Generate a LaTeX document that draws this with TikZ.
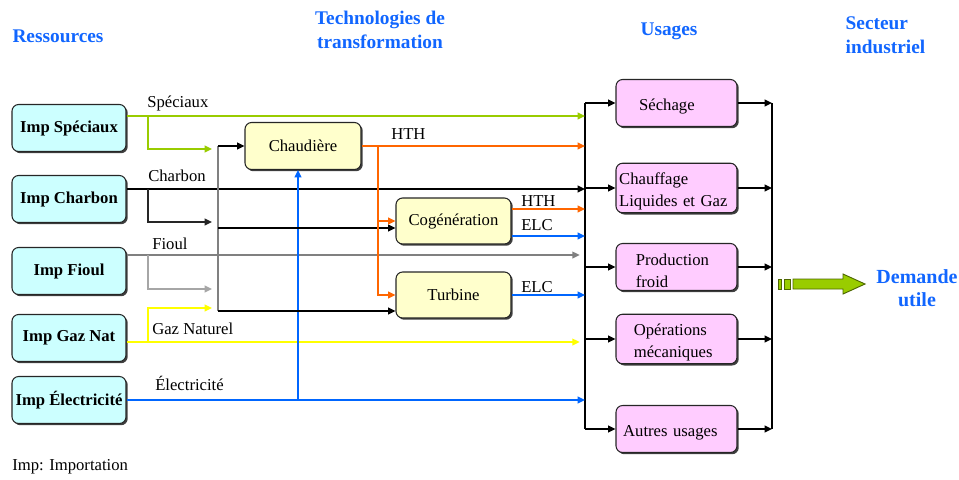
\documentclass[tikz,border=0pt]{standalone}
\usepackage{fontspec}
\setmainfont{Liberation Serif}
\usetikzlibrary{arrows.meta,shadows,calc}
\definecolor{cyanf}{HTML}{CCFFFF}
\definecolor{yelf}{HTML}{FFFFCC}
\definecolor{pinkf}{HTML}{FFCCFF}
\definecolor{lgreen}{HTML}{99CC00}
\definecolor{lorange}{HTML}{FF6600}
\definecolor{lblue}{HTML}{0066FF}
\definecolor{lgrey}{HTML}{808080}
\definecolor{llgrey}{HTML}{A6A6A6}
\definecolor{lyellow}{HTML}{FFFF00}
\definecolor{tblue}{HTML}{1166FF}
\definecolor{dolive}{HTML}{4D6600}
\begin{document}
\begin{tikzpicture}[x=0.75pt,y=-0.75pt,
  font=\fontsize{12.5}{16.5}\selectfont,
  box/.style={draw=black!85, line width=0.8pt, rounded corners=5pt, inner sep=2pt,
    drop shadow={shadow xshift=1.3pt,shadow yshift=-1.3pt,fill=black!75,opacity=1}},
  res/.style={box, fill=cyanf, minimum width=85.5pt, minimum height=35.25pt, font=\fontsize{12.5}{14}\selectfont\bfseries},
  tech/.style={box, fill=yelf, minimum width=86.25pt, minimum height=34.5pt},
  use/.style={box, fill=pinkf, minimum width=90.75pt, minimum height=35.25pt, text width=86pt, align=left,
    text height=14pt},
  title/.style={text=tblue, font=\fontsize{14.5}{18}\selectfont\bfseries, align=center},
  lab/.style={inner sep=0pt},
  tip/.style={-{Triangle[length=5.5pt,width=5pt]}},
  fl/.style={line width=1.2pt},
  thin/.style={line width=0.9pt},
]
\useasboundingbox (0,0) rectangle (959,479);

% titles
\node[title] (t1) at (58,36) {Ressources};
\node[title] (t2) at (380,30) {Technologies de\\transformation};
\node[title] (t3) at (669,31) {Usages};
\node[title, anchor=west, align=left] (t4) at (841,35) {Secteur\\industriel};
\node[title, font=\fontsize{15}{17}\selectfont\bfseries] (t5) at (917,288) {Demande\\utile};

% resources
\node[res] (sp) at (69,128) {Imp Spéciaux};
\node[res] (ch) at (69,199) {Imp Charbon};
\node[res] (fi) at (69,271) {Imp Fioul};
\node[res] (gz) at (69,338) {Imp Gaz Nat};
\node[res] (el) at (69,400) {Imp Électricité};

% technologies
\node[tech, minimum width=87pt, minimum height=35.25pt] (chau) at (303,146) {Chaudière};
\node[tech] (cog) at (453.5,221) {Cogénération};
\node[tech] (tur) at (453.5,295) {Turbine};

% usages
\node[use] (sech) at (676.5,103) {\hspace*{15pt}Séchage};
\node[use] (chf) at (676.5,188) {Chauffage\\Liquides et Gaz};
\node[use] (prod) at (676.5,267) {\hspace*{12.5pt}Production\\\hspace*{12.5pt}froid};
\node[use] (ope) at (676.5,339) {\hspace*{11pt}Opérations\\\hspace*{11pt}mécaniques};
\node[use] (aut) at (676.5,429) {\hspace*{3pt}Autres usages};

% collector coordinates
\coordinate (uLt) at (585,103);
\coordinate (uLb) at (585,429);
\coordinate (uRt) at (772,103);
\coordinate (uRb) at (772,429);

% usage collectors
\draw[thin] (sech.west -| uLt) -- (aut.west -| uLb);
\draw[thin] (sech.east -| uRt) -- (aut.east -| uRb);
\foreach \n in {sech,chf,prod,ope,aut}{
  \draw[fl,tip] (\n.west -| uLt) -- (\n.west);
  \draw[fl,tip] (\n.east) -- (\n.east -| uRt);
}

% Spéciaux
\coordinate (spb) at (148,116);
\coordinate (spe) at (212,149);
\draw[fl,lgreen,tip] ([yshift=9pt]sp.east) -- ([yshift=9pt]sp.east -| uLt);
\draw[fl,lgreen,tip] (spb) |- (spe);
\node[lab,anchor=south west] (lsp) at (147,111) {Spéciaux};

% Charbon
\coordinate (chb) at (148,189);
\coordinate (che) at (212,222);
\draw[fl,black,tip] ([yshift=7.5pt]ch.east) -- ([yshift=7.5pt]ch.east -| uLt);
\draw[fl,black!85,tip] (chb) |- (che);
\node[lab,anchor=south west] (lch) at (148,182) {Charbon};

% Fioul
\coordinate (fib) at (148,255);
\coordinate (fie) at (212,289);
\draw[fl,lgrey,tip,shorten >=4pt] ([yshift=12pt]fi.east) -- ([yshift=12pt]fi.east -| uLt);
\draw[fl,llgrey,tip] (fib) |- (fie);
\node[lab,anchor=south west] (lfi) at (152,250) {Fioul};

% Gaz
\coordinate (gzb) at (148,342);
\coordinate (gze) at (212,308);
\draw[fl,lyellow,tip,shorten >=4pt] ([yshift=-3pt]gz.east) -- ([yshift=-3pt]gz.east -| uLt);
\draw[fl,lyellow,tip] (gzb) |- (gze);
\node[lab,anchor=south west] (lgz) at (152,335) {Gaz Naturel};

% Électricité
\coordinate (eb) at (298,400);
\draw[fl,lblue,tip] (el.east) -- (el.east -| uLt);
\draw[fl,lblue,tip] (eb) -- (eb |- chau.south);
\node[lab,anchor=south west] (lel) at (155,391) {Électricité};

% technology collector
\coordinate (colT) at (218,146);
\coordinate (colM) at (218,228);
\coordinate (colB) at (218,311);
\draw[thin,lgrey] (colT) -- (colB);
\draw[fl,tip] (colT) -- (chau.west);
\draw[fl,tip] (colM) -- (colM -| cog.west);
\draw[fl,tip] (colB) -- (colB -| tur.west);

% Chaudière outputs
\coordinate (ob) at (378,146);
\draw[fl,lorange,tip] (chau.east) -- (chau.east -| uLt);
\draw[fl,lorange,tip] (ob) |- (tur.west);
\draw[fl,lorange,tip] (ob |- cog.west) -- (cog.west);
\node[lab,anchor=south west] (lh1) at (391,140) {HTH};

% Cogénération outputs
\draw[fl,lorange,tip] ([yshift=9pt]cog.east) -- ([yshift=9pt]cog.east -| uLt);
\draw[fl,lblue,tip] ([yshift=-11.25pt]cog.east) -- ([yshift=-11.25pt]cog.east -| uLt);
\node[lab,anchor=south west] (lh2) at (521,207) {HTH};
\node[lab,anchor=south west] (le1) at (521,231) {ELC};

% Turbine output
\draw[fl,lblue,tip] (tur.east) -- (tur.east -| uLt);
\node[lab,anchor=south west] (le2) at (521,293) {ELC};

% big green arrow
\draw[fill=lgreen,draw=dolive,line width=0.7pt] (778,279) rectangle (781,289);
\draw[fill=lgreen,draw=dolive,line width=0.7pt] (784,279) rectangle (790,289);
\draw[fill=lgreen,draw=dolive,line width=0.7pt] (793,279) -- (843,279) -- (843,274) -- (865,284) -- (843,294) -- (843,289) -- (793,289) -- cycle;

% footnote
\node[lab,anchor=west] (note) at (12,467) {Imp: Importation};
\end{tikzpicture}
\end{document}
